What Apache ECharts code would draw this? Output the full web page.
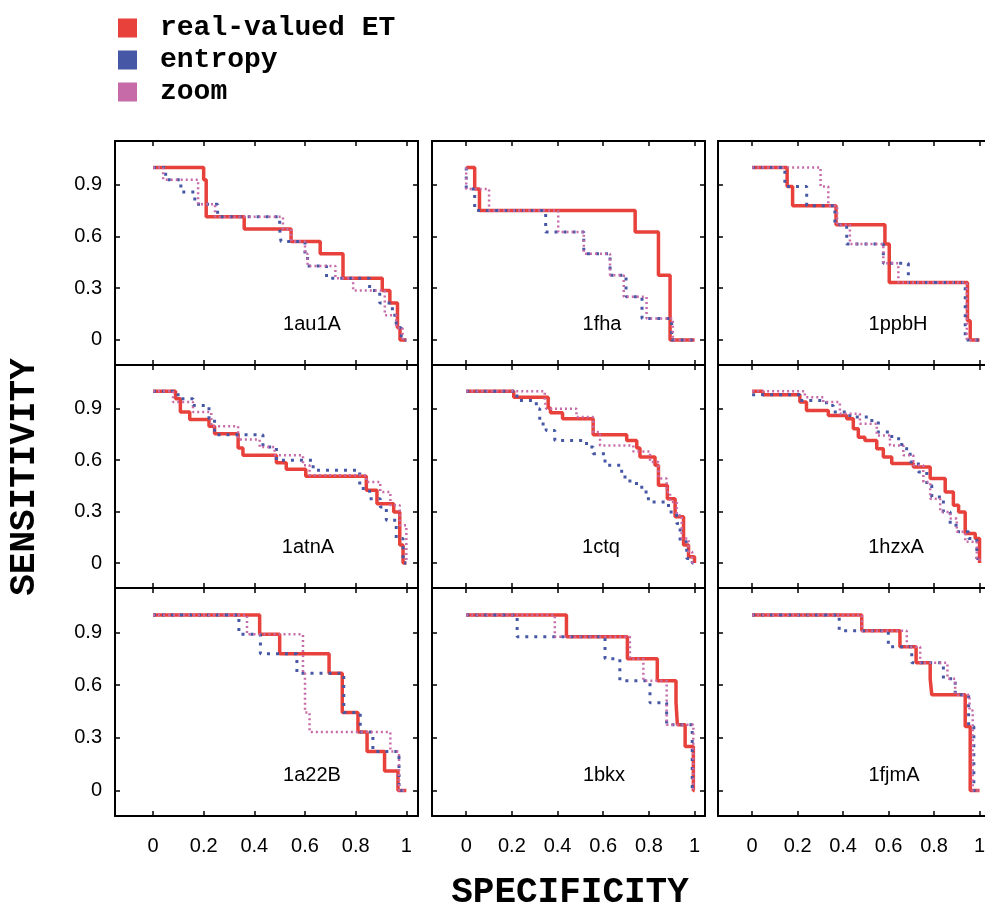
<!DOCTYPE html>
<html>
<head>
    <meta charset='utf-8'>
    <script src="https://cdn.jsdelivr.net/npm/echarts@6/dist/echarts.min.js"></script>
</head>
<body>
<style>
    html, body, #main {
        width: 100%;
        height: 100%;
        margin: 0;
        padding: 0;
        background: #fff;
    }
</style>
<div id="main"></div>
<script>
    var seriesNames = ['real-valued ET', 'entropy', 'zoom'];
    var panelNames = ['1au1A', '1fha', '1ppbH', '1atnA', '1ctq', '1hzxA', '1a22B', '1bkx', '1fjmA'];
    var xTicks = [0, 0.2, 0.4, 0.6, 0.8, 1];
    var yTicks = [0, 0.3, 0.6, 0.9];

    // [specificity, sensitivity] at each step corner
    var et_1au1A = [[0, 1], [0.2, 0.929], [0.21, 0.714], [0.36, 0.643], [0.545, 0.571], [0.66, 0.5], [0.75, 0.357], [0.905, 0.286], [0.935, 0.214], [0.965, 0.071], [0.975, 0], [1, 0]];
    var entropy_1au1A = [[0, 1], [0.05, 0.929], [0.11, 0.857], [0.165, 0.786], [0.255, 0.714], [0.5, 0.643], [0.505, 0.571], [0.6, 0.5], [0.61, 0.429], [0.685, 0.357], [0.855, 0.286], [0.895, 0.214], [0.945, 0.143], [0.96, 0.071], [0.98, 0], [1, 0]];
    var zoom_1au1A = [[0, 1], [0.04, 0.929], [0.178, 0.786], [0.245, 0.714], [0.513, 0.643], [0.546, 0.571], [0.6, 0.5], [0.61, 0.429], [0.72, 0.357], [0.79, 0.286], [0.915, 0.143], [0.96, 0.071], [0.985, 0], [1, 0]];

    var et_1fha = [[0, 1], [0.037, 0.875], [0.058, 0.75], [0.74, 0.625], [0.842, 0.375], [0.893, 0], [1, 0]];
    var entropy_1fha = [[0, 1], [0, 0.875], [0.037, 0.75], [0.348, 0.625], [0.515, 0.5], [0.63, 0.375], [0.7, 0.25], [0.77, 0.125], [0.9, 0], [1, 0]];
    var zoom_1fha = [[0, 1], [0, 0.875], [0.1, 0.75], [0.403, 0.625], [0.515, 0.5], [0.63, 0.375], [0.69, 0.25], [0.79, 0.125], [0.905, 0], [1, 0]];

    var et_1ppbH = [[0, 1], [0.154, 0.889], [0.178, 0.778], [0.369, 0.667], [0.584, 0.556], [0.603, 0.333], [0.947, 0.111], [0.959, 0], [1, 0]];
    var entropy_1ppbH = [[0, 1], [0.144, 0.889], [0.24, 0.778], [0.364, 0.667], [0.416, 0.556], [0.577, 0.444], [0.687, 0.333], [0.937, 0], [1, 0]];
    var zoom_1ppbH = [[0, 1], [0.301, 0.889], [0.335, 0.778], [0.374, 0.667], [0.43, 0.556], [0.577, 0.444], [0.643, 0.333], [0.944, 0], [1, 0]];

    var et_1atnA = [[0, 1], [0.089, 0.956], [0.108, 0.879], [0.145, 0.836], [0.221, 0.797], [0.243, 0.753], [0.336, 0.67], [0.355, 0.627], [0.487, 0.584], [0.526, 0.546], [0.603, 0.505], [0.842, 0.424], [0.884, 0.346], [0.95, 0.298], [0.974, 0.105], [0.987, 0], [1, 0]];
    var entropy_1atnA = [[0, 1], [0.099, 0.956], [0.158, 0.917], [0.221, 0.84], [0.243, 0.747], [0.434, 0.675], [0.487, 0.598], [0.632, 0.54], [0.816, 0.434], [0.855, 0.375], [0.897, 0.327], [0.921, 0.25], [0.96, 0.143], [0.987, 0], [1, 0]];
    var zoom_1atnA = [[0, 1], [0.079, 0.937], [0.158, 0.879], [0.23, 0.797], [0.336, 0.72], [0.421, 0.675], [0.48, 0.627], [0.592, 0.569], [0.618, 0.511], [0.842, 0.472], [0.897, 0.414], [0.937, 0.337], [0.974, 0.22], [1, 0]];

    var et_1ctq = [[0, 1], [0.208, 0.966], [0.359, 0.902], [0.369, 0.875], [0.422, 0.84], [0.556, 0.747], [0.703, 0.714], [0.747, 0.67], [0.761, 0.617], [0.827, 0.569], [0.842, 0.453], [0.881, 0.375], [0.915, 0.269], [0.952, 0.105], [0.974, 0.037], [1, 0]];
    var entropy_1ctq = [[0, 1], [0.222, 0.946], [0.307, 0.898], [0.322, 0.81], [0.35, 0.772], [0.388, 0.714], [0.527, 0.675], [0.556, 0.637], [0.608, 0.569], [0.681, 0.501], [0.717, 0.463], [0.769, 0.414], [0.798, 0.356], [0.886, 0.298], [0.922, 0.23], [0.937, 0.124], [0.966, 0.027], [0.99, 0], [1, 0]];
    var zoom_1ctq = [[0, 1], [0.344, 0.956], [0.35, 0.898], [0.483, 0.85], [0.556, 0.763], [0.586, 0.685], [0.732, 0.65], [0.805, 0.588], [0.842, 0.492], [0.878, 0.414], [0.893, 0.356], [0.922, 0.279], [0.944, 0.143], [0.974, 0.066], [0.99, 0], [1, 0]];

    var et_1hzxA = [[0, 1], [0.048, 0.98], [0.21, 0.937], [0.239, 0.888], [0.335, 0.859], [0.416, 0.84], [0.445, 0.782], [0.467, 0.733], [0.496, 0.714], [0.548, 0.666], [0.577, 0.617], [0.614, 0.579], [0.709, 0.559], [0.783, 0.492], [0.849, 0.414], [0.885, 0.337], [0.908, 0.298], [0.937, 0.172], [0.981, 0.143], [1, 0]];
    var entropy_1hzxA = [[0, 0.98], [0.21, 0.946], [0.327, 0.917], [0.357, 0.879], [0.43, 0.85], [0.518, 0.83], [0.555, 0.763], [0.614, 0.724], [0.658, 0.666], [0.695, 0.588], [0.731, 0.53], [0.768, 0.453], [0.79, 0.385], [0.841, 0.298], [0.871, 0.22], [0.908, 0.182], [0.952, 0.143], [0.988, 0.027], [1, 0]];
    var zoom_1hzxA = [[0, 1], [0.232, 0.966], [0.313, 0.937], [0.386, 0.869], [0.474, 0.811], [0.548, 0.743], [0.606, 0.685], [0.665, 0.627], [0.709, 0.569], [0.753, 0.472], [0.783, 0.375], [0.827, 0.298], [0.871, 0.259], [0.9, 0.182], [0.937, 0.124], [0.988, 0.027], [1, 0]];

    var et_1a22B = [[0, 1], [0.421, 0.889], [0.5, 0.778], [0.695, 0.667], [0.747, 0.444], [0.809, 0.333], [0.845, 0.222], [0.914, 0.111], [0.967, 0], [1, 0]];
    var entropy_1a22B = [[0, 1], [0.339, 0.889], [0.424, 0.778], [0.568, 0.667], [0.753, 0.444], [0.818, 0.333], [0.868, 0.222], [0.971, 0], [1, 0]];
    var zoom_1a22B = [[0, 1], [0.371, 0.889], [0.592, 0.667], [0.6, 0.444], [0.618, 0.333], [0.937, 0.222], [0.971, 0], [1, 0]];

    var et_1bkx = [[0, 1], [0.439, 0.875], [0.706, 0.75], [0.837, 0.625], [0.919, 0.5], [0.925, 0.375], [0.959, 0.25], [0.995, 0], [1, 0]];
    var entropy_1bkx = [[0, 1], [0.223, 0.875], [0.608, 0.75], [0.673, 0.625], [0.805, 0.5], [0.878, 0.375], [0.99, 0], [1, 0]];
    var zoom_1bkx = [[0, 1], [0.388, 0.875], [0.717, 0.75], [0.776, 0.625], [0.878, 0.375], [0.995, 0], [1, 0]];

    var et_1fjmA = [[0, 1], [0.482, 0.909], [0.65, 0.818], [0.721, 0.727], [0.783, 0.636], [0.79, 0.545], [0.937, 0.364], [0.959, 0], [1, 0]];
    var entropy_1fjmA = [[0, 1], [0.383, 0.909], [0.599, 0.818], [0.702, 0.727], [0.841, 0.636], [0.893, 0.545], [0.952, 0.364], [0.975, 0], [1, 0]];
    var zoom_1fjmA = [[0, 1], [0.482, 0.909], [0.68, 0.818], [0.739, 0.727], [0.859, 0.636], [0.893, 0.545], [0.956, 0.455], [0.97, 0], [1, 0]];

    var panelData = [
        [et_1au1A, entropy_1au1A, zoom_1au1A],
        [et_1fha, entropy_1fha, zoom_1fha],
        [et_1ppbH, entropy_1ppbH, zoom_1ppbH],
        [et_1atnA, entropy_1atnA, zoom_1atnA],
        [et_1ctq, entropy_1ctq, zoom_1ctq],
        [et_1hzxA, entropy_1hzxA, zoom_1hzxA],
        [et_1a22B, entropy_1a22B, zoom_1a22B],
        [et_1bkx, entropy_1bkx, zoom_1bkx],
        [et_1fjmA, entropy_1fjmA, zoom_1fjmA]
    ];

    // layout
    var colLeft = [115, 432, 718];
    var colWidth = [303, 273, 272];
    var rowTop = [141, 365, 588];
    var rowHeight = [224, 223, 228];
    var labelPos = [[312, 324], [602, 324], [898, 324], [308, 547], [601, 547], [896, 547], [312, 775], [604, 775], [894, 775]];

    var colors = ['#e8403b', '#4657a6', '#c66ba8'];
    var widths = [3.5, 3, 2.5];
    var dashes = ['solid', [3, 6], [2, 3]];
    var textFont = 'Liberation Sans';
    var monoFont = 'Liberation Mono';

    var chart = echarts.init(document.getElementById('main'));

    var grids = [], xAxes = [], yAxes = [], series = [], graphics = [];

    for (var i = 0; i < 9; i++) {
        var r = Math.floor(i / 3), c = i % 3;
        grids.push({
            left: colLeft[c], top: rowTop[r], width: colWidth[c], height: rowHeight[r],
            containLabel: false,
            outerBoundsMode: 'none'
        });
        ['bottom', 'top'].forEach(function (pos) {
            xAxes.push({
                gridIndex: i, type: 'value', position: pos,
                min: -0.15, max: 1.046,
                axisLine: {onZero: false, lineStyle: {color: '#000', width: 2}},
                axisTick: {inside: true, length: 5, customValues: xTicks, lineStyle: {color: '#000', width: 1.5}},
                axisLabel: {
                    show: pos === 'bottom' && r === 2, customValues: xTicks, margin: 20,
                    fontSize: 20, color: '#000', fontFamily: textFont
                },
                splitLine: {show: false}
            });
        });
        ['left', 'right'].forEach(function (pos) {
            yAxes.push({
                gridIndex: i, type: 'value', position: pos,
                min: -0.145, max: 1.153,
                axisLine: {onZero: false, lineStyle: {color: '#000', width: 2}},
                axisTick: {inside: true, length: 5, customValues: yTicks, lineStyle: {color: '#000', width: 1.5}},
                axisLabel: {
                    show: pos === 'left' && c === 0, customValues: yTicks, margin: 13,
                    fontSize: 20, color: '#000', fontFamily: textFont
                },
                splitLine: {show: false}
            });
        });
        for (var k = 0; k < 3; k++) {
            series.push({
                name: seriesNames[k],
                type: 'line',
                step: 'end',
                xAxisIndex: 2 * i,
                yAxisIndex: 2 * i,
                data: panelData[i][k],
                symbol: 'none',
                z: 2 + k,
                itemStyle: {color: colors[k]},
                lineStyle: {color: colors[k], width: widths[k], type: dashes[k]}
            });
        }
        graphics.push({
            type: 'text',
            x: labelPos[i][0], y: labelPos[i][1],
            style: {
                text: panelNames[i], fill: '#000', font: '20px ' + textFont,
                align: 'center', verticalAlign: 'middle'
            }
        });
    }

    graphics.push({
        type: 'text', x: 570, y: 893,
        style: {
            text: 'SPECIFICITY', fill: '#000', font: 'bold 36px ' + monoFont,
            align: 'center', verticalAlign: 'middle'
        }
    });
    graphics.push({
        type: 'text', x: 25, y: 477, rotation: Math.PI / 2,
        style: {
            text: 'SENSITIVITY', fill: '#000', font: 'bold 36px ' + monoFont,
            align: 'center', verticalAlign: 'middle'
        }
    });

    chart.setOption({
        animation: false,
        backgroundColor: '#fff',
        legend: {
            orient: 'vertical',
            left: 113,
            top: 9,
            icon: 'rect',
            itemWidth: 19,
            itemHeight: 19,
            itemGap: 4,
            data: seriesNames,
            itemStyle: {borderWidth: 0},
            textStyle: {
                fontFamily: monoFont, fontWeight: 'bold', fontSize: 28, color: '#000',
                padding: [0, 0, 8, 18]
            }
        },
        grid: grids,
        xAxis: xAxes,
        yAxis: yAxes,
        series: series,
        graphic: graphics
    });
</script>
</body>
</html>
